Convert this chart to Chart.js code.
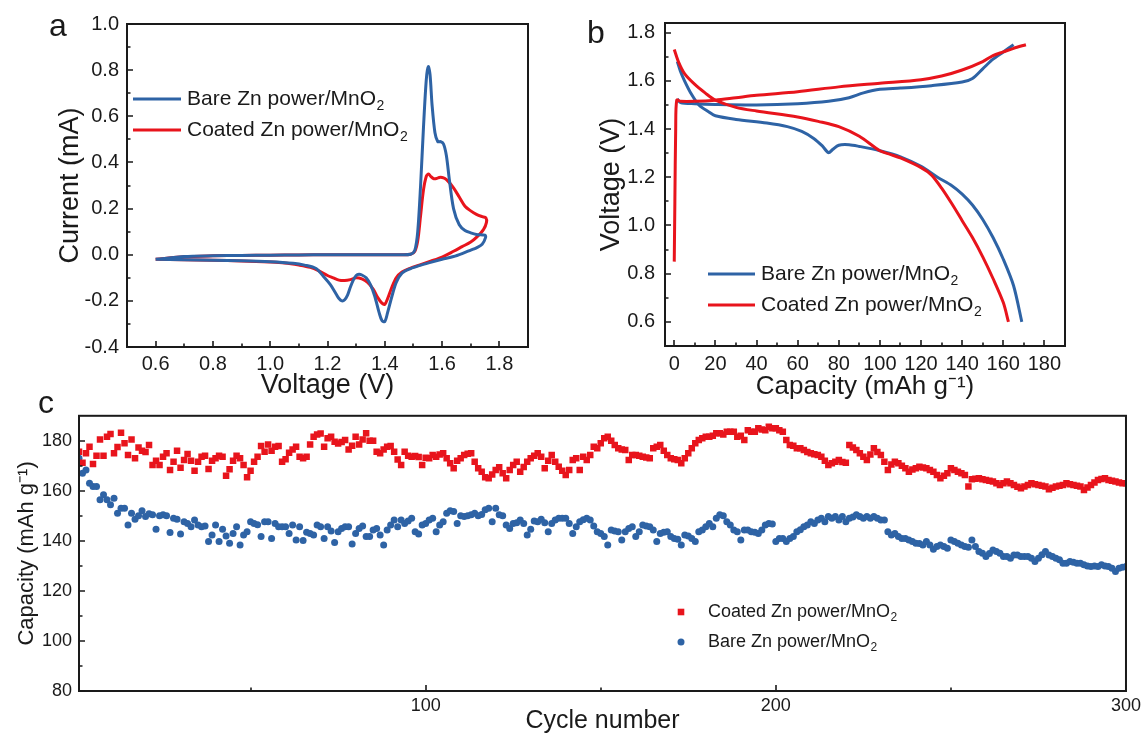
<!DOCTYPE html>
<html>
<head>
<meta charset="utf-8">
<script src="https://cdn.jsdelivr.net/npm/chart.js@4.4.1/dist/chart.umd.min.js"></script>
<style>
  body { margin: 0; background: #fff; width: 1145px; height: 736px; overflow: hidden; position: relative;
         font-family: "Liberation Sans", Arial, sans-serif; }
  canvas { position: absolute; }
  .tag { position: absolute; font-size: 32px; line-height: 1; color: #1a1a1a; }
</style>
</head>
<body>
<canvas id="cvA" width="560" height="410" style="left:0px;top:0px"></canvas>
<canvas id="cvB" width="575" height="410" style="left:570px;top:0px"></canvas>
<canvas id="cvC" width="1145" height="338" style="left:0px;top:398px"></canvas>
<div class="tag" style="left:49px;top:9px">a</div>
<div class="tag" style="left:587px;top:16px">b</div>
<div class="tag" style="left:38px;top:386px">c</div>
<script>
// ---- panel a: CV curves ----
const voltBare = [0.60,0.70,0.80,0.90,1.00,1.10,1.20,1.30,1.40,1.45,1.49,1.505,1.515,1.525,1.535,1.545,1.552,1.558,1.565,1.575,
  1.585,1.595,1.605,1.615,1.625,1.64,1.66,1.68,1.70,1.72,1.75,1.752,1.74,1.72,1.70,1.67,1.64,1.60,1.56,1.52,
  1.49,1.46,1.44,1.425,1.41,1.40,1.39,1.38,1.365,1.35,1.335,1.32,1.31,1.30,1.29,1.28,1.27,1.26,1.25,1.24,
  1.23,1.21,1.19,1.16,1.12,1.08,1.00,0.90,0.80,0.70,0.60];
const currBare = [-0.02,-0.008,-0.005,-0.003,-0.002,-0.001,0,0,0,0,0.002,0.02,0.1,0.3,0.55,0.76,0.815,0.78,0.65,0.53,
  0.49,0.49,0.48,0.43,0.33,0.2,0.13,0.105,0.095,0.088,0.085,0.075,0.045,0.03,0.02,0.005,-0.008,-0.02,-0.033,-0.047,
  -0.06,-0.08,-0.12,-0.18,-0.25,-0.29,-0.285,-0.25,-0.18,-0.13,-0.1,-0.088,-0.085,-0.09,-0.11,-0.14,-0.175,-0.195,-0.2,-0.19,
  -0.17,-0.13,-0.1,-0.06,-0.045,-0.037,-0.03,-0.026,-0.024,-0.022,-0.02];
const voltCoat = [0.60,0.70,0.80,0.90,1.00,1.10,1.20,1.30,1.40,1.45,1.49,1.505,1.515,1.525,1.535,1.545,1.553,1.56,1.57,1.58,
  1.59,1.60,1.61,1.62,1.64,1.66,1.68,1.70,1.72,1.74,1.753,1.755,1.745,1.72,1.70,1.67,1.64,1.60,1.56,1.52,
  1.49,1.46,1.44,1.425,1.41,1.40,1.39,1.375,1.36,1.34,1.32,1.30,1.28,1.26,1.24,1.22,1.20,1.17,1.14,1.10,
  1.05,1.00,0.90,0.80,0.70,0.60];
const currCoat = [-0.02,-0.009,-0.005,-0.003,-0.002,-0.001,0,0,0,0,0.002,0.015,0.06,0.17,0.28,0.34,0.35,0.34,0.33,0.33,
  0.335,0.335,0.33,0.32,0.29,0.25,0.21,0.19,0.175,0.165,0.16,0.14,0.11,0.075,0.055,0.035,0.015,-0.01,-0.028,-0.045,
  -0.058,-0.075,-0.1,-0.14,-0.19,-0.215,-0.21,-0.185,-0.15,-0.12,-0.105,-0.1,-0.108,-0.112,-0.11,-0.1,-0.09,-0.07,-0.055,-0.045,
  -0.036,-0.032,-0.027,-0.024,-0.022,-0.02];
const voltTicksA = [0.6, 0.8, 1.0, 1.2, 1.4, 1.6, 1.8];
const voltMinorA = [0.7, 0.9, 1.1, 1.3, 1.5, 1.7];
const currTicksA = [-0.4, -0.2, 0.0, 0.2, 0.4, 0.6, 0.8, 1.0];
const currMinorA = [-0.3, -0.1, 0.1, 0.3, 0.5, 0.7, 0.9];

// ---- panel b: charge / discharge ----
const capBareChg = [1.5,3,10,20,40,60,75,85,92,100,110,125,140,145,150,155,160,165];
const vBareChg = [1.525,1.51,1.505,1.502,1.5,1.505,1.515,1.53,1.55,1.565,1.57,1.58,1.595,1.61,1.65,1.69,1.72,1.75];
const capBareDis = [1.5,3,5,8,12,17,20,30,45,55,62,68,72,75,77,80,85,90,100,110,120,128,135,140,145,150,155,160,165,169];
const vBareDis = [1.68,1.64,1.6,1.55,1.5,1.47,1.455,1.44,1.425,1.41,1.39,1.36,1.33,1.302,1.315,1.333,1.335,1.328,1.31,1.285,
  1.245,1.2,1.165,1.13,1.085,1.025,0.95,0.86,0.75,0.6];
const capCoatChg = [0,0.3,0.7,1.2,3,10,20,30,40,60,80,100,120,130,140,150,155,160,165,171];
const vCoatChg = [0.85,1.1,1.4,1.52,1.515,1.515,1.52,1.53,1.54,1.555,1.575,1.59,1.605,1.62,1.645,1.68,1.705,1.72,1.735,1.75];
const capCoatDis = [0,2,5,10,15,20,30,40,60,70,80,90,100,105,110,120,125,130,135,140,145,150,155,160,162.5];
const vCoatDis = [1.73,1.68,1.63,1.585,1.55,1.52,1.49,1.475,1.45,1.432,1.41,1.37,1.31,1.295,1.28,1.24,1.21,1.155,1.09,1.02,
  0.95,0.87,0.78,0.68,0.6];
const capTicksB = [0, 20, 40, 60, 80, 100, 120, 140, 160, 180];
const capMinorB = [10, 30, 50, 70, 90, 110, 130, 150, 170];
const voltTicksB = [0.6, 0.8, 1.0, 1.2, 1.4, 1.6, 1.8];
const voltMinorB = [0.7, 0.9, 1.1, 1.3, 1.5, 1.7];

// ---- panel c: cycling ----
const capCoated = [
  175.6,171.2,175.0,177.6,170.7,174.0,180.5,174.0,181.6,182.7, 175.0,177.5,183.2,179.0,174.3,180.5,173.0,177.3,176.0,175.5,
  178.3,170.3,172.0,170.3,173.6,175.0,168.3,171.6,176.0,169.2, 172.3,174.7,172.0,168.0,171.6,173.6,174.0,168.7,172.0,173.0,
  174.0,173.6,166.0,168.6,172.0,174.0,173.0,170.3,165.4,168.0, 171.6,173.6,177.9,175.6,178.5,176.0,177.6,177.9,171.6,172.6,
  175.2,176.5,177.6,173.6,173.0,173.6,178.5,181.6,182.5,182.9, 177.6,181.0,181.6,179.6,178.9,179.5,180.3,176.5,178.0,181.6,
  178.5,180.5,183.0,180.0,180.0,175.6,175.0,176.5,177.6,177.9, 175.6,172.5,170.3,175.6,174.0,173.6,173.9,173.5,170.3,173.2,
  173.0,174.3,173.6,174.5,175.0,173.0,171.0,169.0,172.0,173.0, 174.3,174.8,175.0,171.6,169.0,167.6,165.4,165.0,166.5,168.3,
  169.4,167.0,165.0,168.3,170.3,171.6,167.6,169.5,171.6,173.0, 174.0,175.0,173.6,169.0,172.0,174.3,171.6,169.6,168.0,166.3,
  168.3,172.3,173.0,168.3,173.6,172.3,174.3,177.6,177.0,179.0, 181.0,181.6,180.0,178.3,177.0,176.5,176.3,172.3,174.3,174.3,
  174.0,173.6,173.3,173.0,177.0,177.6,178.3,176.0,174.3,173.0, 172.6,172.3,171.0,173.0,175.0,177.0,179.0,180.3,181.0,181.6,
  181.6,182.0,183.0,183.0,182.5,183.6,183.6,183.6,181.6,182.0, 180.3,184.2,183.6,183.6,185.0,184.5,184.2,185.6,185.0,185.0,
  184.2,183.6,180.3,178.3,178.0,177.0,177.0,176.3,175.5,175.0, 174.6,174.3,173.6,172.0,170.3,171.0,171.6,172.3,171.5,171.2,
  178.3,177.3,176.3,175.0,173.6,172.3,174.5,177.0,175.5,174.3, 171.6,168.3,170.5,171.6,171.0,170.0,169.0,167.6,168.5,169.0,
  169.6,169.3,169.0,168.3,167.6,166.3,165.0,166.0,167.0,169.0, 168.3,167.6,167.0,166.3,161.7,164.6,164.8,165.0,164.6,164.3,
  164.0,163.7,163.0,162.3,163.0,163.7,163.0,162.3,161.6,161.0, 161.7,162.3,163.0,162.6,162.3,162.0,161.7,160.6,161.2,161.7,
  162.0,162.3,163.0,162.6,162.3,162.0,161.7,160.3,161.3,162.3, 163.3,164.3,164.7,165.0,164.3,164.0,163.7,163.3,163.0,163.0];
const capBare = [
  173.0,167.0,168.3,163.0,161.7,161.7,156.4,158.4,156.4,154.4, 157.0,151.0,153.0,153.0,146.4,151.0,148.7,150.0,152.0,149.7,
  150.8,150.4,144.7,150.0,150.4,150.0,143.4,149.0,148.7,142.8, 147.7,147.0,145.7,148.4,146.4,145.7,146.0,139.8,142.4,146.4,
  139.8,144.7,142.0,139.1,143.0,145.7,138.4,142.4,143.7,147.7, 147.0,146.5,141.8,147.7,147.7,141.0,147.0,145.7,145.7,145.7,
  143.0,146.4,140.4,145.7,140.2,143.5,143.0,142.4,146.4,145.7, 141.0,145.7,144.0,139.4,143.7,145.0,145.7,145.7,138.8,143.0,
  145.0,146.0,141.8,141.8,144.4,145.0,142.4,138.4,144.4,146.4, 148.4,145.7,148.4,147.0,148.0,149.0,143.7,142.8,146.4,147.0,
  148.4,149.0,143.7,146.4,147.7,151.0,152.0,151.7,147.0,150.0, 149.7,150.0,150.4,151.0,150.0,150.5,152.4,153.0,147.7,153.0,
  150.4,150.0,146.4,145.0,147.0,147.3,148.4,147.0,142.4,144.7, 148.0,147.7,148.7,147.3,143.7,147.0,148.4,149.0,149.0,149.0,
  147.0,143.0,145.7,147.7,148.5,149.0,148.4,146.0,143.7,143.0, 141.8,138.4,144.4,144.0,143.7,140.4,143.7,145.0,145.7,141.8,
  143.7,146.4,146.0,145.7,144.4,139.8,143.0,143.5,143.7,141.8, 141.0,140.7,138.4,142.4,142.0,141.0,139.8,143.7,144.4,145.7,
  147.0,145.7,149.0,150.4,150.0,147.7,146.4,144.4,143.7,140.4, 144.4,144.4,143.7,143.5,143.0,144.4,146.4,147.0,146.8,139.8,
  141.0,141.0,139.8,141.0,141.8,143.7,144.5,145.7,146.4,147.7, 147.0,148.4,149.0,147.7,149.7,149.0,149.7,148.4,149.7,147.7,
  149.0,149.5,150.4,149.7,149.0,149.7,149.0,149.7,149.0,148.4, 148.4,143.7,142.4,143.0,141.8,141.0,141.0,140.4,139.8,139.1,
  139.0,138.4,139.8,138.4,136.7,137.8,138.4,137.8,137.1,140.4, 139.8,139.1,138.4,137.8,137.5,140.4,137.8,135.8,135.1,133.8,
  135.0,136.4,135.8,135.1,133.8,133.8,133.1,134.4,134.4,133.8, 133.8,133.8,133.1,131.8,133.1,134.5,135.8,134.4,133.8,133.1,
  132.5,131.1,131.1,131.8,131.5,131.1,131.1,130.5,130.0,129.8, 130.0,129.8,130.5,130.0,129.8,129.1,127.8,129.1,129.5,129.8];
const cycleTicks = [100, 200, 300];
const cycleMinor = [50, 150, 250];
const capTicksC = [80, 100, 120, 140, 160, 180];
const capMinorC = [90, 110, 130, 150, 170];

const FONT = '"Liberation Sans", Arial, sans-serif';
const INK = '#1a1a1a';
const BLUE = '#2e63a5';
const RED = '#e8141c';

const pts = (xs, ys) => xs.map((x, i) => ({ x: x, y: ys[i] }));
const fixTicks = vals => scale => { scale.ticks = vals.map(v => ({ value: v })); };

// box frame + inward tick marks
const framePlugin = {
  id: 'frame',
  afterDatasetsDraw(chart, args, opts) {
    const { ctx, chartArea: a, scales: { x, y } } = chart;
    ctx.save();
    ctx.strokeStyle = INK;
    ctx.lineWidth = 2;
    ctx.strokeRect(a.left, a.top, a.right - a.left, a.bottom - a.top);
    ctx.lineWidth = 1.6;
    ctx.beginPath();
    const xt = (v, len) => { const p = Math.round(x.getPixelForValue(v)); ctx.moveTo(p, a.bottom); ctx.lineTo(p, a.bottom - len); };
    const yt = (v, len) => { const p = Math.round(y.getPixelForValue(v)); ctx.moveTo(a.left, p); ctx.lineTo(a.left + len, p); };
    x.ticks.forEach(t => xt(t.value, 6));
    y.ticks.forEach(t => yt(t.value, 6));
    (opts.xMinor || []).forEach(v => xt(v, 3.5));
    (opts.yMinor || []).forEach(v => yt(v, 3.5));
    ctx.stroke();
    ctx.restore();
  }
};

function drawLabel(ctx, text, x, y, size) {
  const sub = text.endsWith('\u2082');
  const main = sub ? text.slice(0, -1) : text;
  ctx.font = size + 'px ' + FONT;
  ctx.fillText(main, x, y);
  if (sub) {
    const w = ctx.measureText(main).width;
    ctx.font = Math.round(size * 0.66) + 'px ' + FONT;
    ctx.fillText('2', x + w + 0.5, y + size * 0.32);
  }
}

// legend drawn inside the plot
const legendPlugin = {
  id: 'inLegend',
  afterDraw(chart, args, o) {
    const ctx = chart.ctx;
    ctx.save();
    ctx.textBaseline = 'middle';
    ctx.fillStyle = INK;
    o.items.forEach((idx, i) => {
      const ds = chart.data.datasets[idx];
      const yy = o.y[i];
      if (o.kind === 'line') {
        ctx.strokeStyle = ds.borderColor;
        ctx.lineWidth = 3;
        ctx.beginPath();
        ctx.moveTo(o.x, yy);
        ctx.lineTo(o.x + o.len, yy);
        ctx.stroke();
      } else {
        ctx.fillStyle = ds.backgroundColor;
        ctx.beginPath();
        if (ds.pointStyle === 'rect') ctx.rect(o.x - 3.3, yy - 3.3, 6.6, 6.6);
        else ctx.arc(o.x, yy, 3.5, 0, Math.PI * 2);
        ctx.fill();
      }
      ctx.fillStyle = INK;
      drawLabel(ctx, ds.label, o.textX, yy, o.size);
    });
    ctx.restore();
  }
};

function axis(opts) {
  return {
    type: 'linear',
    min: opts.min, max: opts.max,
    grid: { display: false, drawTicks: false },
    border: { display: false },
    afterBuildTicks: fixTicks(opts.ticks),
    afterFit: scale => { if (opts.height) scale.height = opts.height; if (opts.width) scale.width = opts.width; },
    ticks: { color: INK, font: { family: FONT, size: opts.tickSize }, padding: opts.pad,
             callback: opts.fmt },
    title: { display: true, text: opts.title, color: INK, font: { family: FONT, size: opts.titleSize },
             padding: opts.titlePad }
  };
}

const common = {
  responsive: false,
  animation: false,
  devicePixelRatio: 1,
  events: []
};

// panel a
new Chart(document.getElementById('cvA'), {
  type: 'scatter',
  data: {
    datasets: [
      { label: 'Bare Zn power/MnO\u2082', data: pts(voltBare, currBare), showLine: true, borderColor: BLUE,
        borderWidth: 3, pointRadius: 0, tension: 0.3 },
      { label: 'Coated Zn power/MnO\u2082', data: pts(voltCoat, currCoat), showLine: true, borderColor: RED,
        borderWidth: 3, pointRadius: 0, tension: 0.3 }
    ]
  },
  options: Object.assign({}, common, {
    layout: { padding: { left: 0, top: 24, right: 32, bottom: 0 } },
    plugins: {
      legend: { display: false }, tooltip: { enabled: false },
      frame: { xMinor: voltMinorA, yMinor: currMinorA },
      inLegend: { kind: 'line', items: [0, 1], x: 133, len: 48, textX: 187, y: [99, 130], size: 21 }
    },
    scales: {
      x: axis({ min: 0.5, max: 1.9, ticks: voltTicksA, height: 63, tickSize: 20, pad: 5, fmt: v => v.toFixed(1),
                title: 'Voltage (V)', titleSize: 27, titlePad: { top: 0, bottom: 8 } }),
      y: axis({ min: -0.4, max: 1.0, ticks: currTicksA, width: 127, tickSize: 20, pad: 8, fmt: v => v.toFixed(1),
                title: 'Current (mA)', titleSize: 27, titlePad: { top: 54, bottom: 0 } })
    }
  }),
  plugins: [framePlugin, legendPlugin]
});

// panel b
new Chart(document.getElementById('cvB'), {
  type: 'scatter',
  data: {
    datasets: [
      { label: 'Coated Zn power/MnO\u2082', data: pts(capCoatChg, vCoatChg), showLine: true, borderColor: RED,
        borderWidth: 3, pointRadius: 0, tension: 0.3 },
      { data: pts(capCoatDis, vCoatDis), showLine: true, borderColor: RED, borderWidth: 3, pointRadius: 0, tension: 0.3 },
      { label: 'Bare Zn power/MnO\u2082', data: pts(capBareChg, vBareChg), showLine: true, borderColor: BLUE,
        borderWidth: 3, pointRadius: 0, tension: 0.3 },
      { data: pts(capBareDis, vBareDis), showLine: true, borderColor: BLUE, borderWidth: 3, pointRadius: 0, tension: 0.3 }
    ]
  },
  options: Object.assign({}, common, {
    layout: { padding: { left: 0, top: 23, right: 80, bottom: 0 } },
    plugins: {
      legend: { display: false }, tooltip: { enabled: false },
      frame: { xMinor: capMinorB, yMinor: voltMinorB },
      inLegend: { kind: 'line', items: [2, 0], x: 138, len: 47, textX: 191, y: [274, 305], size: 21 }
    },
    scales: {
      x: axis({ min: -4.5, max: 190, ticks: capTicksB, height: 64, tickSize: 20, pad: 6, fmt: v => String(v),
                title: 'Capacity (mAh g\u207B\u00B9)', titleSize: 26, titlePad: { top: 0, bottom: 8 } }),
      y: axis({ min: 0.5, max: 1.84, ticks: voltTicksB, width: 95, tickSize: 20, pad: 10, fmt: v => v.toFixed(1),
                title: 'Voltage (V)', titleSize: 27, titlePad: { top: 25, bottom: 0 } })
    }
  }),
  plugins: [framePlugin, legendPlugin]
});

// panel c
const cycles = capCoated.map((_, i) => i + 1);
new Chart(document.getElementById('cvC'), {
  type: 'scatter',
  data: {
    datasets: [
      { label: 'Coated Zn power/MnO\u2082', data: pts(cycles, capCoated), pointStyle: 'rect', pointRadius: 4.6,
        backgroundColor: RED, borderWidth: 0 },
      { label: 'Bare Zn power/MnO\u2082', data: pts(cycles, capBare), pointStyle: 'circle', pointRadius: 3.5,
        backgroundColor: BLUE, borderWidth: 0 }
    ]
  },
  options: Object.assign({}, common, {
    layout: { padding: { left: 0, top: 17, right: 18, bottom: 0 } },
    plugins: {
      legend: { display: false }, tooltip: { enabled: false },
      frame: { xMinor: cycleMinor, yMinor: capMinorC },
      inLegend: { kind: 'marker', items: [0, 1], x: 681, textX: 708, y: [214, 244], size: 18 }
    },
    scales: {
      x: axis({ min: 1, max: 300, ticks: cycleTicks, height: 45, tickSize: 18, pad: 4, fmt: v => String(v),
                title: 'Cycle number', titleSize: 25, titlePad: { top: 0, bottom: 0 } }),
      y: axis({ min: 80, max: 190, ticks: capTicksC, width: 79, tickSize: 18, pad: 7, fmt: v => String(v),
                title: 'Capacity (mAh g\u207B\u00B9)', titleSize: 22, titlePad: { top: 14, bottom: 0 } })
    }
  }),
  plugins: [framePlugin, legendPlugin]
});
</script>
</body>
</html>
